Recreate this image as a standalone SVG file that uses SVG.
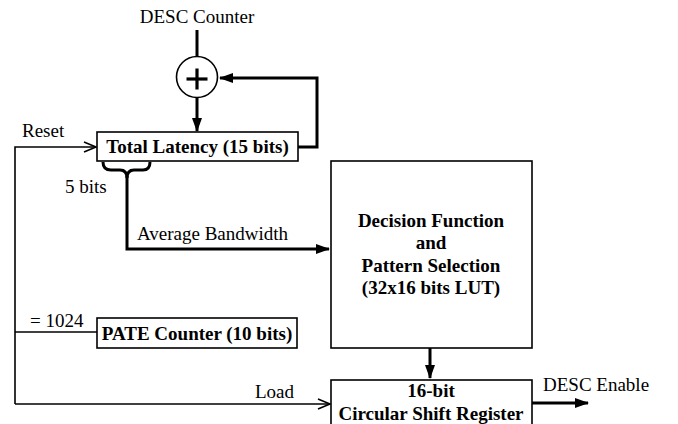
<svg xmlns="http://www.w3.org/2000/svg" width="678" height="424" viewBox="0 0 678 424" font-family="Liberation Serif, serif" font-size="19">
<defs>
<style>
.b{font-weight:bold}
.box{fill:#fff;stroke:#000;stroke-width:1.6}
.thick{fill:none;stroke:#000;stroke-width:3}
.thin{fill:none;stroke:#000;stroke-width:1.6}
</style>
<marker id="fa" markerWidth="14" markerHeight="12" refX="13" refY="5" orient="auto" markerUnits="userSpaceOnUse" viewBox="0 0 14 10">
<path d="M0,0 L14,5 L0,10 Z" fill="#000"/>
</marker>
<marker id="oa" markerWidth="16" markerHeight="14" refX="13" refY="6" orient="auto" markerUnits="userSpaceOnUse" viewBox="0 0 16 12">
<path d="M1,1 L13,6 L1,11" fill="none" stroke="#000" stroke-width="1.6"/>
</marker>
</defs>
<rect width="678" height="424" fill="#fff"/>

<g id="connectors">
<line class="thick" x1="197" y1="30" x2="197" y2="57"/>
<line class="thick" x1="197" y1="97" x2="197" y2="131" marker-end="url(#fa)"/>
<polyline class="thick" points="298,147 317,147 317,78 220,78" marker-end="url(#fa)"/>
<polyline class="thin" points="15,404 15,147 96,147" marker-end="url(#oa)"/>
<line class="thin" x1="15" y1="332" x2="97" y2="332"/>
<line class="thin" x1="15" y1="404" x2="330" y2="404" marker-end="url(#oa)"/>
<path class="thick" d="M103,162 Q103,170 111,170 L120,170 Q127,170 127,178 Q127,170 134,170 L143,170 Q150,170 150,162"/>
<polyline class="thick" points="127,176 127,249 329,249" marker-end="url(#fa)"/>
<line class="thick" x1="430" y1="348" x2="430" y2="378" marker-end="url(#fa)"/>
<line class="thick" x1="532" y1="403" x2="588" y2="403" marker-end="url(#fa)"/>
</g>

<g id="labels">
<text x="197" y="23" text-anchor="middle">DESC Counter</text>
<text x="22" y="137">Reset</text>
<text x="65" y="193">5 bits</text>
<text x="137" y="240">Average Bandwidth</text>
<text x="30" y="327">= 1024</text>
<text x="294" y="398" text-anchor="end">Load</text>
<text x="543" y="391">DESC Enable</text>
</g>

<g id="adder">
<circle cx="197" cy="77" r="20.5" fill="#fff" stroke="#000" stroke-width="1.6"/>
<line x1="186.5" y1="79" x2="207.5" y2="79" stroke="#000" stroke-width="3.2"/>
<line x1="197" y1="68.5" x2="197" y2="89.5" stroke="#000" stroke-width="3.2"/>
</g>

<g id="total-latency">
<rect class="box" x="97" y="132" width="201" height="29"/>
<text class="b" x="197.5" y="153" text-anchor="middle">Total Latency (15 bits)</text>
</g>

<g id="pate-counter">
<rect class="box" x="97" y="318" width="200" height="30"/>
<text class="b" x="197" y="339.5" text-anchor="middle">PATE Counter (10 bits)</text>
</g>

<g id="decision">
<rect class="box" x="331" y="161" width="201" height="187"/>
<text class="b" x="431" y="227" text-anchor="middle">Decision Function</text>
<text class="b" x="431" y="249" text-anchor="middle">and</text>
<text class="b" x="431" y="272" text-anchor="middle">Pattern Selection</text>
<text class="b" x="431" y="294" text-anchor="middle">(32x16 bits LUT)</text>
</g>

<g id="shift-register">
<rect class="box" x="331" y="380" width="201" height="50"/>
<text class="b" x="431" y="397" text-anchor="middle">16-bit</text>
<text class="b" x="431" y="420" text-anchor="middle">Circular Shift Register</text>
</g>
</svg>
